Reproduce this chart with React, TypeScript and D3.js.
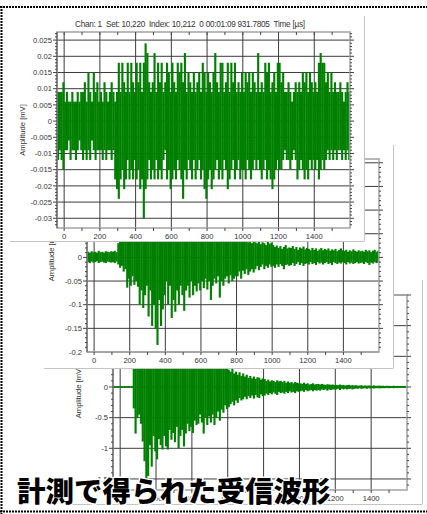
import React from "react";
import * as d3 from "d3";

// time bins: t = -40, -30, ... 1590 µs (10 µs each)
const T0 = -40;
const DT = 10;

const ch1Hi = [
  .009,.009,.009,.012,
  .006,.009,.006,.006,.009,.006,.006,.009,.006,.009,
  .009,.012,.006,.015,.009,.006,.015,.009,.012,.006,
  .009,.006,.012,.009,.006,.009,.012,.009,.006,.009,
  .018,.009,.018,.012,.009,.018,.009,.018,.012,.009,
  .018,.012,.018,.009,.018,.024,.021,.012,.009,.012,
  .021,.009,.018,.012,.018,.009,.012,.018,.015,.009,
  .018,.012,.009,.018,.015,.018,.012,.021,.009,.015,
  .012,.009,.015,.009,.012,.015,.009,.018,.015,.009,
  .015,.012,.009,.015,.021,.012,.009,.018,.018,.009,
  .012,.018,.009,.018,.012,.018,.009,.012,.009,.015,
  .009,.015,.012,.015,.009,.015,.012,.009,.021,.009,
  .012,.009,.018,.015,.018,.009,.012,.015,.009,.018,
  .018,.012,.015,.009,.009,.012,.009,.006,.009,.012,
  .009,.012,.009,.015,.012,.015,.009,.015,.012,.009,
  .012,.009,.018,.021,.018,.018,.012,.015,.009,.015,
  .009,.012,.009,.009,.012,.009,.006,.009,.012,.009,
];
const ch1Lo = [
  -.012,-.009,-.012,-.015,
  -.009,-.009,-.006,-.012,-.009,-.009,-.012,-.009,-.006,-.009,
  -.012,-.009,-.012,-.009,-.012,-.006,-.009,-.012,-.009,-.009,
  -.009,-.012,-.009,-.012,-.009,-.009,-.012,-.009,-.018,-.021,
  -.024,-.018,-.015,-.021,-.018,-.012,-.018,-.015,-.018,-.012,
  -.018,-.015,-.021,-.018,-.030,-.021,-.018,-.012,-.018,-.015,
  -.018,-.012,-.018,-.015,-.018,-.012,-.009,-.018,-.015,-.021,
  -.018,-.015,-.018,-.012,-.015,-.018,-.024,-.015,-.018,-.012,
  -.015,-.018,-.012,-.018,-.015,-.012,-.018,-.015,-.021,-.024,
  -.018,-.015,-.021,-.018,-.015,-.012,-.018,-.015,-.018,-.012,
  -.015,-.021,-.018,-.015,-.012,-.018,-.015,-.012,-.018,-.015,
  -.015,-.018,-.012,-.015,-.018,-.015,-.012,-.015,-.012,-.015,
  -.018,-.015,-.012,-.018,-.015,-.018,-.021,-.018,-.015,-.012,
  -.015,-.015,-.012,-.009,-.012,-.012,-.015,-.012,-.009,-.012,
  -.018,-.015,-.012,-.015,-.018,-.015,-.018,-.012,-.015,-.012,
  -.015,-.012,-.018,-.015,-.012,-.015,-.012,-.009,-.012,-.009,
  -.012,-.009,-.012,-.009,-.009,-.012,-.009,-.012,-.009,-.012,
];

const ch2Hi = [
  .012,.010,.013,.011,
  .012,.010,.014,.011,.012,.010,.013,.012,.011,.013,
  .012,.014,.011,.030,.045,.060,.050,.080,.070,.090,
  .075,.110,.090,.120,.100,.140,.090,.160,.110,.130,
  .150,.100,.170,.120,.190,.140,.110,.160,.120,.100,
  .130,.090,.110,.150,.100,.120,.080,.110,.090,.120,
  .090,.110,.080,.100,.070,.090,.080,.060,.085,.070,
  .070,.060,.080,.055,.070,.060,.050,.065,.055,.060,
  .050,.060,.045,.055,.050,.040,.045,.050,.040,.045,
  .040,.035,.045,.038,.040,.035,.032,.036,.030,.034,
  .032,.030,.035,.028,.032,.030,.026,.033,.029,.031,
  .026,.022,.025,.020,.024,.018,.022,.026,.019,.021,
  .020,.024,.018,.022,.016,.021,.019,.023,.017,.020,
  .018,.015,.020,.016,.019,.014,.017,.020,.015,.018,
  .016,.019,.014,.017,.015,.018,.013,.016,.019,.015,
  .014,.016,.012,.015,.013,.017,.014,.012,.015,.013,
  .014,.012,.016,.013,.015,.011,.014,.016,.012,.014,
];
const ch2Lo = [
  -.010,-.012,-.009,-.011,
  -.010,-.008,-.012,-.010,-.009,-.011,-.012,-.009,-.010,-.011,
  -.010,-.012,-.009,-.015,-.022,-.018,-.030,-.025,-.064,-.045,
  -.060,-.040,-.058,-.050,-.062,-.100,-.070,-.107,-.080,-.060,
  -.125,-.070,-.145,-.100,-.150,-.185,-.090,-.145,-.110,-.080,
  -.050,-.100,-.060,-.128,-.090,-.115,-.070,-.100,-.060,-.080,
  -.113,-.070,-.060,-.085,-.050,-.080,-.060,-.072,-.055,-.070,
  -.050,-.065,-.045,-.068,-.050,-.090,-.060,-.045,-.055,-.040,
  -.085,-.050,-.060,-.045,-.040,-.055,-.038,-.050,-.045,-.040,
  -.040,-.030,-.045,-.028,-.035,-.025,-.037,-.030,-.025,-.032,
  -.025,-.018,-.027,-.020,-.015,-.025,-.018,-.022,-.015,-.020,
  -.018,-.022,-.015,-.020,-.014,-.018,-.025,-.016,-.015,-.018,
  -.016,-.012,-.018,-.014,-.010,-.016,-.012,-.018,-.014,-.012,
  -.015,-.010,-.014,-.012,-.016,-.010,-.013,-.011,-.015,-.012,
  -.010,-.014,-.012,-.016,-.010,-.012,-.014,-.011,-.013,-.010,
  -.012,-.015,-.010,-.013,-.011,-.014,-.012,-.010,-.013,-.012,
  -.011,-.014,-.010,-.012,-.016,-.011,-.013,-.010,-.012,-.011,
];

const ch3Hi = [
  .015,.012,.015,.012,
  .015,.012,.015,.012,.015,.012,.015,.40,.90,.70,
  1.0,.80,1.3,1.1,1.4,1.2,.90,1.1,1.3,.95,
  1.1,.90,1.2,.85,1.0,.95,.80,1.1,.85,.90,
  .80,1.0,.75,.90,.70,.85,.65,.80,.70,.60,
  .70,.55,.65,.60,.50,.62,.48,.55,.45,.52,
  .45,.50,.40,.42,.36,.40,.33,.38,.30,.34,
  .28,.25,.30,.22,.25,.20,.24,.18,.22,.17,
  .20,.15,.18,.14,.17,.13,.16,.15,.12,.14,
  .13,.10,.12,.09,.11,.10,.08,.11,.09,.10,
  .08,.10,.07,.09,.07,.08,.06,.08,.07,.06,
  .06,.05,.07,.05,.06,.04,.05,.06,.04,.05,
  .05,.04,.05,.04,.035,.045,.04,.035,.04,.03,
  .035,.03,.04,.03,.035,.025,.03,.035,.025,.03,
  .025,.03,.02,.025,.03,.02,.025,.02,.025,.02,
  .02,.025,.018,.02,.022,.018,.02,.016,.02,.018,
  .018,.015,.02,.016,.018,.015,.017,.015,.016,.018,
];
const ch3Lo = [
  -.015,-.012,-.015,-.012,
  -.015,-.012,-.015,-.012,-.015,-.012,-.015,-.35,-.76,-.50,
  -.45,-.60,-.89,-1.21,-1.5,-1.45,-.95,-1.30,-.80,-1.05,
  -1.18,-.85,-.95,-1.02,-.80,-.97,-1.02,-.70,-.86,-.75,
  -.90,-.65,-1.0,-.80,-.70,-.97,-.76,-.60,-.72,-.65,
  -.75,-.55,-.62,-.60,-.45,-.58,-.76,-.50,-.62,-.48,
  -.58,-.45,-.62,-.50,-.40,-.55,-.37,-.42,-.30,-.36,
  -.33,-.28,-.24,-.30,-.22,-.26,-.18,-.22,-.20,-.16,
  -.20,-.15,-.18,-.14,-.19,-.13,-.17,-.18,-.12,-.15,
  -.14,-.11,-.13,-.10,-.12,-.09,-.11,-.13,-.08,-.10,
  -.09,-.11,-.08,-.10,-.07,-.09,-.08,-.10,-.07,-.08,
  -.07,-.06,-.08,-.05,-.07,-.06,-.05,-.07,-.05,-.06,
  -.05,-.06,-.04,-.05,-.04,-.06,-.04,-.05,-.04,-.04,
  -.04,-.03,-.05,-.03,-.04,-.03,-.04,-.03,-.03,-.04,
  -.03,-.025,-.03,-.02,-.03,-.025,-.02,-.03,-.02,-.025,
  -.02,-.025,-.02,-.018,-.022,-.02,-.018,-.02,-.015,-.02,
  -.018,-.015,-.02,-.015,-.018,-.015,-.016,-.015,-.018,-.015,
];

const xTicks = [0, 200, 400, 600, 800, 1000, 1200, 1400];
const ch1YTicks = [0.025, 0.02, 0.015, 0.01, 0.005, 0, -0.005, -0.01, -0.015, -0.02, -0.025, -0.03];
const ch2YTicks = [0.2, 0.15, 0.1, 0.05, 0, -0.05, -0.1, -0.15, -0.2];
const ch3YTicks = [1.5, 1, 0.5, 0, -0.5, -1, -1.5];
const ch1Title = "Chan: 1  Set: 10,220  Index: 10,212  0 00:01:09 931.7805  Time [µs]";
const yAxisLabel = "Amplitude [mV]";
const caption = "計測で得られた受信波形";

const FONT = "'Liberation Sans', Arial, sans-serif";
const GREEN = "#008000";

type Box = { x0: number; y0: number; x1: number; y1: number };
type PanelSpec = {
  id: string;
  win: Box;
  plot: Box;
  yDomain: [number, number];
  yTicks: number[];
  hi: number[];
  lo: number[];
  labelX: number;
  title?: string;
};

const fmt = (v: number) => {
  const s = String(+v.toFixed(4));
  return s === "-0" ? "0" : s;
};

function Panel({ p }: { p: PanelSpec }) {
  const { win, plot } = p;
  const x = d3.scaleLinear().domain([-40, 1600]).range([plot.x0, plot.x1]);
  const y = d3.scaleLinear().domain(p.yDomain).range([plot.y1, plot.y0]);
  const step = Math.abs(p.yTicks[0] - p.yTicks[1]);
  const minorY = d3
    .range(Math.ceil(p.yDomain[0] / (step / 5)), Math.floor(p.yDomain[1] / (step / 5)) + 1)
    .map((k) => k * (step / 5));
  const minorX = d3.range(0, 1600, 100);
  const clipId = `clip-${p.id}`;
  const yTicksIn = p.yTicks.filter((v) => v >= p.yDomain[0] - 1e-9 && v <= p.yDomain[1] + 1e-9);
  return (
    <g>
      <rect x={win.x0} y={win.y0} width={win.x1 - win.x0} height={win.y1 - win.y0} fill="#fff" />
      <line x1={win.x1 + 0.5} x2={win.x1 + 0.5} y1={win.y0} y2={win.y1} stroke="#c4c4c4" />
      <line x1={win.x0} x2={win.x1 + 0.5} y1={win.y1 + 0.5} y2={win.y1 + 0.5} stroke="#c4c4c4" />
      <defs>
        <clipPath id={clipId}>
          <rect x={plot.x0} y={plot.y0} width={plot.x1 - plot.x0} height={plot.y1 - plot.y0} />
        </clipPath>
      </defs>
      <g stroke="#3c3c3c" strokeWidth={1}>
        {xTicks.map((t) => (
          <line key={"gx" + t} x1={x(t)} x2={x(t)} y1={plot.y0} y2={plot.y1} />
        ))}
        {yTicksIn.map((v) => (
          <line key={"gy" + v} x1={plot.x0} x2={plot.x1} y1={y(v)} y2={y(v)} />
        ))}
      </g>
      <g clipPath={`url(#${clipId})`} fill={GREEN}>
        {p.hi.map((h, i) => {
          const t = T0 + i * DT;
          const xa = x(t);
          const xb = x(t + DT);
          const ya = y(h);
          const yb = y(p.lo[i]);
          return <rect key={i} x={xa} y={ya} width={xb - xa + 0.35} height={Math.max(1, yb - ya)} />;
        })}
      </g>
      <rect
        x={plot.x0}
        y={plot.y0}
        width={plot.x1 - plot.x0}
        height={plot.y1 - plot.y0}
        fill="none"
        stroke="#a8a8a8"
        strokeWidth={1.6}
      />
      <line x1={plot.x0} x2={plot.x0} y1={plot.y0} y2={plot.y1} stroke="#555" />
      <g stroke="#444" strokeWidth={1}>
        {minorY.map((v, i) => {
          const major = p.yTicks.some((t) => Math.abs(t - v) < 1e-9);
          const len = major ? 4 : 2;
          return (
            <g key={"ty" + i}>
              <line x1={plot.x0 - len} x2={plot.x0} y1={y(v)} y2={y(v)} />
              <line x1={plot.x1} x2={plot.x1 + len} y1={y(v)} y2={y(v)} />
            </g>
          );
        })}
        {minorX.map((t) => (
          <g key={"tx" + t}>
            <line x1={x(t)} x2={x(t)} y1={plot.y0} y2={plot.y0 + 3} />
            <line x1={x(t)} x2={x(t)} y1={plot.y1} y2={plot.y1 + 3} />
          </g>
        ))}
      </g>
      <g fontFamily={FONT} fontSize={7.6} fill="#333">
        {yTicksIn.map((v) => (
          <text key={"ly" + v} x={plot.x0 - 5} y={y(v) + 2.7} textAnchor="end">
            {fmt(v)}
          </text>
        ))}
        {xTicks.map((t) => (
          <text key={"lx" + t} x={x(t)} y={plot.y1 + 11} textAnchor="middle">
            {t}
          </text>
        ))}
      </g>
      <text
        transform={`translate(${p.labelX},${(plot.y0 + plot.y1) / 2}) rotate(-90)`}
        textAnchor="middle"
        fontFamily={FONT}
        fontSize={7.6}
        fill="#333"
      >
        {yAxisLabel}
      </text>
      {p.title && (
        <text
          x={75}
          y={plot.y0 - 5}
          fontFamily={FONT}
          fontSize={8.2}
          fill="#333"
          textLength={230}
          lengthAdjust="spacing"
          style={{ whiteSpace: "pre" }}
        >
          {p.title}
        </text>
      )}
    </g>
  );
}

export default function App() {
  const panels: PanelSpec[] = [
    {
      id: "c3",
      win: { x0: 71, y0: 280, x1: 422, y1: 504 },
      plot: { x0: 113, y0: 295, x1: 407, y1: 490 },
      yDomain: [-1.68, 1.5],
      yTicks: ch3YTicks,
      hi: ch3Hi,
      lo: ch3Lo,
      labelX: 81,
    },
    {
      id: "c2",
      win: { x0: 44, y0: 145, x1: 393, y1: 368 },
      plot: { x0: 87, y0: 159, x1: 379, y1: 352 },
      yDomain: [-0.2, 0.208],
      yTicks: ch2YTicks,
      hi: ch2Hi,
      lo: ch2Lo,
      labelX: 54,
    },
    {
      id: "c1",
      win: { x0: 10, y0: 16, x1: 364, y1: 241 },
      plot: { x0: 57, y0: 32, x1: 350, y1: 228 },
      yDomain: [-0.033, 0.0275],
      yTicks: ch1YTicks,
      hi: ch1Hi,
      lo: ch1Lo,
      labelX: 25,
      title: ch1Title,
    },
  ];
  return (
    <svg width={427} height={514} style={{ position: "absolute", left: 0, top: 0, background: "#fff" }}>
      <rect width={427} height={514} fill="#fff" />
      {panels.map((p) => (
        <Panel key={p.id} p={p} />
      ))}
      <text
        x={17}
        y={502}
        fontFamily="'Noto Sans CJK JP', 'Noto Sans CJK SC', sans-serif"
        fontWeight={900}
        fontSize={28.5}
        fill="#000"
        stroke="#fff"
        strokeWidth={3}
        paintOrder="stroke"
        strokeLinejoin="round"
      >
        {caption}
      </text>
      <g stroke="#000" strokeWidth={2} strokeDasharray="2 1" fill="none">
        <line x1={0} x2={427} y1={7} y2={7} />
        <line x1={1.5} x2={1.5} y1={6} y2={514} />
        <line x1={0} x2={427} y1={511.5} y2={511.5} />
      </g>
    </svg>
  );
}
